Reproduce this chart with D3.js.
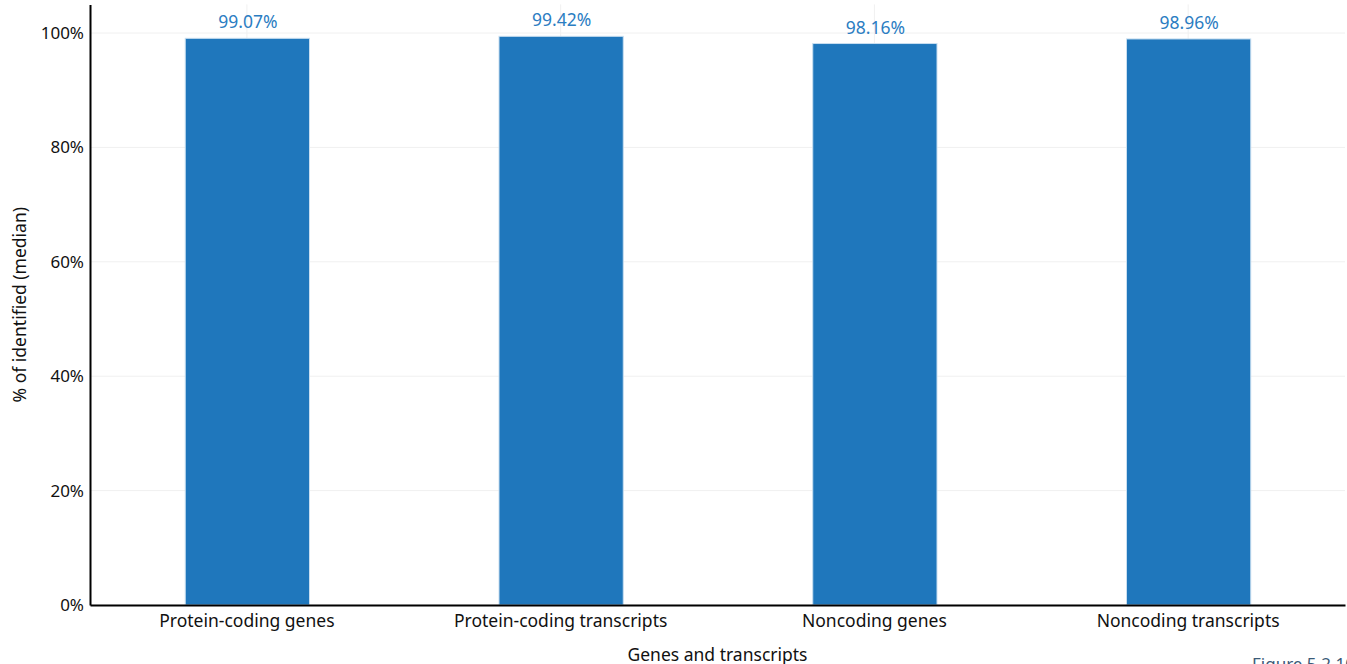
<!DOCTYPE html>
<html><head><meta charset="utf-8">
<script src="https://cdn.jsdelivr.net/npm/d3@7"></script>
<style>
html,body{margin:0;padding:0;background:#fff;overflow:hidden;}
text{font-family:"Noto Sans","Open Sans",sans-serif;}
</style></head>
<body><svg id="chart" width="1347" height="664"></svg>
<script>
const categories = ["Protein-coding genes","Protein-coding transcripts","Noncoding genes","Noncoding transcripts"];
const values = [99.07, 99.42, 98.16, 98.96];
const yTicks = [0,20,40,60,80,100];
const yTitle = "% of identified (median)";
const xTitle = "Genes and transcripts";
const figLabel = "Figure 5.2.10";
const FONT = "'Noto Sans','Open Sans',sans-serif";

const svg = d3.select("#chart");
const m = {left:90, right:2, top:4.4, bottom:59};
const W = 1347, H = 664;
const x = d3.scaleBand().domain(categories).range([m.left, W - m.right]).paddingInner(0.604).paddingOuter(0.302);
const y = d3.scaleLinear().domain([0,105]).range([H - m.bottom, m.top]);

// horizontal grid
svg.append("g").selectAll("line").data(yTicks).join("line")
  .attr("x1", m.left).attr("x2", W - m.right)
  .attr("y1", d=>y(d)).attr("y2", d=>y(d))
  .attr("stroke","#f0f0f0").attr("stroke-width",1);
// vertical grid at category centers
svg.append("g").selectAll("line").data(categories).join("line")
  .attr("x1", d=>x(d)+x.bandwidth()/2).attr("x2", d=>x(d)+x.bandwidth()/2)
  .attr("y1", y(105)).attr("y2", y(0))
  .attr("stroke","#f0f0f0").attr("stroke-width",1);

// bars
svg.append("g").selectAll("rect").data(values).join("rect")
  .attr("x",(d,i)=>x(categories[i])+0.5)
  .attr("width",x.bandwidth())
  .attr("y",d=>y(d))
  .attr("height",d=>y(0)-y(d))
  .attr("fill","#1f77bc")
  .attr("stroke","#c8def0").attr("stroke-width",1);

// value labels
svg.append("g").selectAll("text").data(values).join("text")
  .attr("x",(d,i)=>x(categories[i])+x.bandwidth()/2+1)
  .attr("y",d=>y(d)-10)
  .attr("text-anchor","middle")
  .attr("fill","#2b7dc2")
  .attr("font-size",17.5)
  .text(d=>d.toFixed(2)+"%");

// y axis
const ya = svg.append("g").attr("transform",`translate(${m.left},0)`)
  .call(d3.axisLeft(y).tickValues(yTicks).tickSize(0).tickPadding(6).tickFormat(d=>d+"%"));
ya.select(".domain").attr("stroke","#000").attr("stroke-width",2);
ya.selectAll("text").attr("font-size",17).attr("fill","#111").attr("font-family",FONT);

// x axis
const xa = svg.append("g").attr("transform",`translate(0,${y(0)})`)
  .call(d3.axisBottom(x).tickSize(0).tickPadding(10));
xa.select(".domain").attr("stroke","#000").attr("stroke-width",2);
xa.selectAll("text").attr("font-size",17.5).attr("fill","#111").attr("font-family",FONT);

// titles
svg.append("text").attr("transform",`translate(26,${(y(0)+y(105))/2}) rotate(-90)`)
  .attr("text-anchor","middle").attr("font-size",17.5).attr("fill","#111").text(yTitle);
svg.append("text").attr("x",(m.left + W - m.right)/2).attr("y",661)
  .attr("text-anchor","middle").attr("font-size",17.5).attr("fill","#111").text(xTitle);
svg.append("text").attr("x",1252).attr("y",670)
  .attr("font-size",17).attr("fill","#3a5a78").text(figLabel);
</script></body></html>
